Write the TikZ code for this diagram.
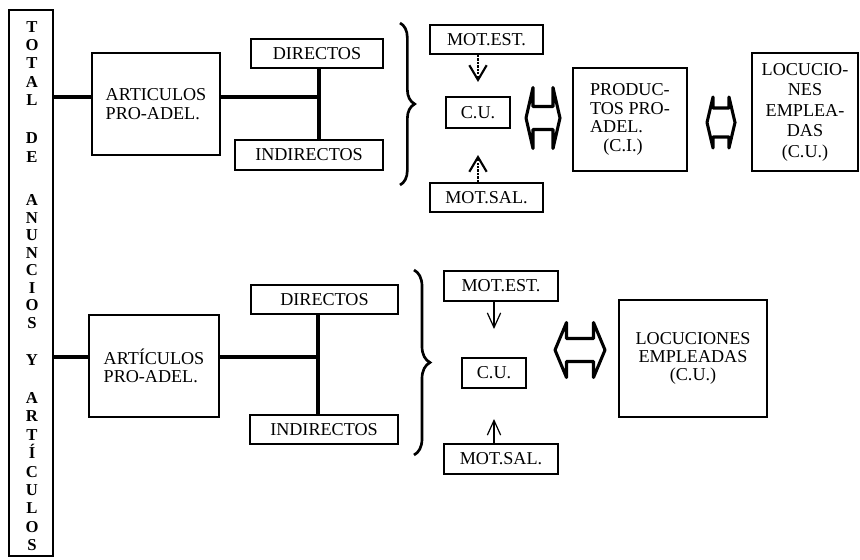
\documentclass[tikz,border=0pt]{standalone}
\usepackage{fontspec}
\setmainfont{Liberation Serif}
\usetikzlibrary{arrows.meta,calc,decorations.pathreplacing}

\newcommand{\boxfont}{\fontsize{13.6}{14}\selectfont}
\newcommand{\letterfont}{\fontsize{12.5}{12.5}\selectfont\bfseries}
% outline of the wide two-headed arrows: centre, tip, base, head, shaft
\newcommand{\dblarrow}[5]{%
  \draw[twoway] ($(#1)+(-#2,0)$) -- ($(#1)+(-#3,-#4)$)
    -- ($(#1)+(-#3,-#5)$) -- ($(#1)+(#3,-#5)$) -- ($(#1)+(#3,-#4)$)
    -- ($(#1)+(#2,0)$) -- ($(#1)+(#3,#4)$)
    -- ($(#1)+(#3,#5)$) -- ($(#1)+(-#3,#5)$) -- ($(#1)+(-#3,#4)$)
    -- cycle;}

\begin{document}
\begin{tikzpicture}[x=0.75pt, y=-0.75pt, >=Stealth]
        \tikzstyle{box}=[draw, line width=1.5pt, inner sep=0pt, align=center, font=\boxfont]
        \tikzstyle{letter}=[inner sep=0pt, anchor=base, font=\letterfont]
        \tikzstyle{link}=[line width=2.3pt]
        \tikzstyle{dotarrow}=[line width=1.6pt, densely dotted, -{Straight Barb[length=11pt,width=13pt]}]
        \tikzstyle{thinarrow}=[line width=0.9pt, -{Straight Barb[length=11pt,width=10pt]}]
        \tikzstyle{twoway}=[line width=2.3pt, line join=round]
        \tikzstyle{curly}=[line width=2pt, decorate, decoration={brace, amplitude=11pt}]

        \useasboundingbox (0,0) rectangle (860,560);

        % left column
        \node[box, minimum width=33pt, minimum height=409.5pt](total) at (31,283){};
        \foreach \l/\y [count=\i] in {T/27,O/45,T/63,A/82,L/100,D/138,E/157,
            A/200,N/217.6,U/235.1,N/252.7,C/270.3,I/287.9,O/305.4,S/323,Y/360,
            A/398,R/416.4,T/434.8,Í/453.1,C/471.5,U/489.9,L/508.3,O/526.6,S/545}
            \node[letter](let\i) at (32,\y+5.5){\l};

        % upper row
        \node[box, align=left, minimum width=96pt, minimum height=76.5pt](art1) at (156,104){ARTICULOS\\PRO-ADEL.};
        \node[box, minimum width=99pt, minimum height=21.75pt](dir1) at (317,53.5){DIRECTOS};
        \node[box, minimum width=111pt, minimum height=22.5pt](ind1) at (309,155){INDIRECTOS};
        \coordinate (j1) at (319,97);
        \node[box, minimum width=84.75pt, minimum height=21.75pt](mest1) at (486.5,39.5){MOT.EST.};
        \node[box, minimum width=48pt, minimum height=23.25pt](cu1) at (478,112.5){C.U.};
        \node[box, minimum width=84.75pt, minimum height=21.75pt](msal1) at (486.5,197.5){MOT.SAL.};
        \node[box, align=left, minimum width=85.5pt, minimum height=77.25pt](prod) at (630,119.5){PRODUC-\\TOS PRO-\\ADEL.\\\hspace*{10pt}(C.I.)};
        \node[box, font=\fontsize{13.6}{15.4}\selectfont, minimum width=79.5pt, minimum height=88.5pt](loc1) at (805,112){LOCUCIO-\\NES\\EMPLEA-\\DAS\\(C.U.)};

        \draw[link] (total.east |- j1) -- (art1.west |- j1);
        \draw[link] (art1.east |- j1) -- (j1);
        \draw[link] (dir1.south -| j1) -- (ind1.north -| j1);
        \draw[dotarrow, shorten >=10.5pt] (mest1.south -| cu1) -- (cu1.north);
        \draw[dotarrow, shorten >=19.5pt] (msal1.north -| cu1) -- (cu1.south);

        \coordinate (br1t) at (400,23);
        \coordinate (br1b) at (400,185);
        \draw[curly] (br1t) -- (br1b);

        \coordinate (dbl1) at (543,118);
        \dblarrow{dbl1}{17}{10}{30.5}{11.5}
        \coordinate (dbl2) at (721,122.5);
        \dblarrow{dbl2}{14}{8}{25.5}{14.5}

        % lower row
        \node[box, align=left, minimum width=97.5pt, minimum height=76.5pt](art2) at (154,366){ARTÍCULOS\\PRO-ADEL.};
        \node[box, minimum width=110.25pt, minimum height=21.75pt](dir2) at (324.5,299.5){DIRECTOS};
        \node[box, minimum width=111pt, minimum height=21.75pt](ind2) at (324,429.5){INDIRECTOS};
        \coordinate (j2) at (318,357);
        \node[box, minimum width=85.5pt, minimum height=22.5pt](mest2) at (501,286){MOT.EST.};
        \node[box, minimum width=48pt, minimum height=22.5pt](cu2) at (494,373){C.U.};
        \node[box, minimum width=85.5pt, minimum height=22.5pt](msal2) at (501,459){MOT.SAL.};
        \node[box, font=\fontsize{13.6}{13.6}\selectfont, minimum width=111pt, minimum height=87.75pt](loc2) at (693,358.5){LOCUCIONES\\EMPLEADAS\\(C.U.)};

        \draw[link] (total.east |- j2) -- (art2.west |- j2);
        \draw[link] (art2.east |- j2) -- (j2);
        \draw[link] (dir2.south -| j2) -- (ind2.north -| j2);
        \draw[thinarrow, shorten >=21pt] (mest2.south -| cu2) -- (cu2.north);
        \draw[thinarrow, shorten >=22.5pt] (msal2.north -| cu2) -- (cu2.south);

        \coordinate (br2t) at (414,270);
        \coordinate (br2b) at (414,455);
        \draw[curly, decoration={brace, amplitude=12pt}] (br2t) -- (br2b);

        \coordinate (dbl3) at (580,350);
        \dblarrow{dbl3}{25}{13.5}{27.5}{11.5}

        \end{tikzpicture}
\end{document}
